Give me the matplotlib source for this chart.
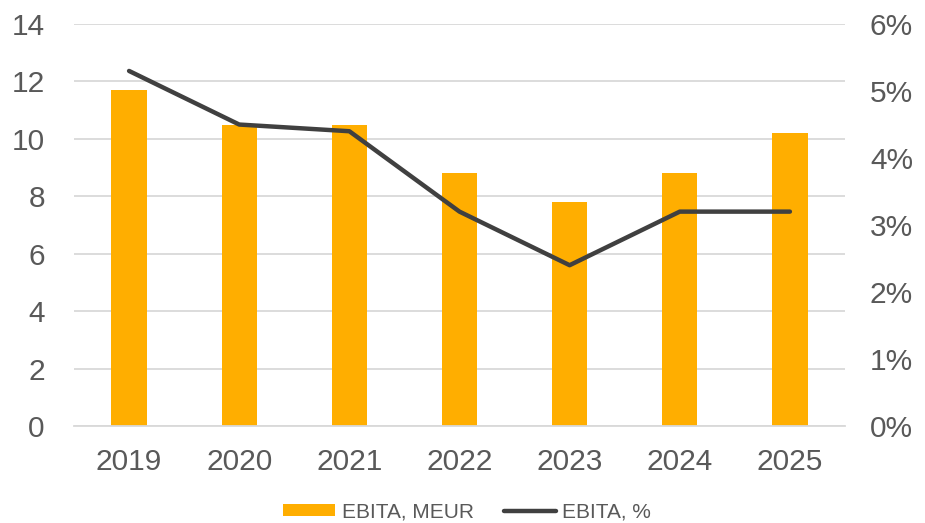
import numpy as np
import matplotlib.pyplot as plt
from matplotlib.ticker import FuncFormatter

years = ['2019', '2020', '2021', '2022', '2023', '2024', '2025']
ebita_meur = [11.7, 10.5, 10.5, 8.8, 7.8, 8.8, 10.2]
ebita_pct = [5.3, 4.5, 4.4, 3.2, 2.4, 3.2, 3.2]

plt.rcParams['font.family'] = ['Liberation Sans', 'DejaVu Sans']
txt = '#595959'

fig = plt.figure(figsize=(9.25, 5.23), dpi=100)
ax = fig.add_axes([0.08, 0.1855, 0.8335, 0.7685])
ax2 = ax.twinx()

x = np.arange(len(years))
bars = ax.bar(x, ebita_meur, width=0.32, color='#FFAE00', zorder=2, label='EBITA, MEUR')
line, = ax2.plot(x, ebita_pct, color='#404040', lw=3.2, solid_capstyle='round',
                 zorder=3, label='EBITA, %')

ax.set_xlim(-0.5, len(years) - 0.5)
ax.set_ylim(0, 14)
ax.set_yticks(range(0, 15, 2))
ax2.set_ylim(0, 6)
ax2.set_yticks(range(0, 7))
ax2.yaxis.set_major_formatter(FuncFormatter(lambda v, p: '%d%%' % v))

ax.set_xticks(x)
ax.set_xticklabels(years)
ax.grid(axis='y', color='#D9D9D9', lw=1.3, zorder=0)
ax.set_axisbelow(True)

for a in (ax, ax2):
    for s in a.spines.values():
        s.set_visible(False)
    a.tick_params(length=0, labelsize=21.5, labelcolor=txt)
ax.spines['bottom'].set_visible(True)
ax.spines['bottom'].set_color('#D9D9D9')
ax.spines['bottom'].set_linewidth(1.3)
ax.tick_params(axis='y', pad=21)
ax.tick_params(axis='x', pad=16)
ax2.tick_params(axis='y', pad=18)

fig.legend([bars, line], ['EBITA, MEUR', 'EBITA, %'], loc='center',
           bbox_to_anchor=(0.505, 0.021), ncol=2, frameon=False, fontsize=15,
           labelcolor=txt, handlelength=2.5, handleheight=0.55,
           handletextpad=0.3, columnspacing=1.45)

fig.savefig('out.png', dpi=100)
